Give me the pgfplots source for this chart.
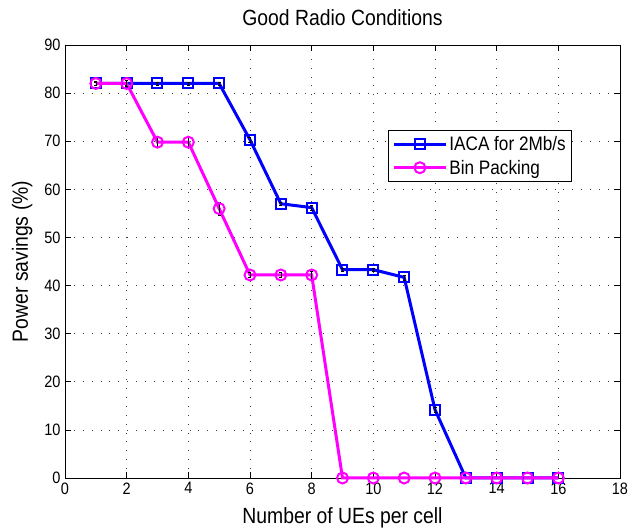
\documentclass[border=0pt]{standalone}
\usepackage{fontspec}
\setmainfont[FakeStretch=0.88]{Liberation Sans}
\usepackage{pgfplots}
\pgfplotsset{compat=1.18}
\definecolor{mblue}{RGB}{0,0,255}
\definecolor{mmag}{RGB}{255,0,255}
\begin{document}
\begin{tikzpicture}
\begin{axis}[
  name=ax, at={(0,0)}, anchor=south west,
  scale only axis, width=555pt, height=433pt,
  xmin=0, xmax=18, ymin=0, ymax=90,
  xtick={0,2,...,18}, ytick={0,10,...,90},
  grid=major, major grid style={black!75, dash pattern=on 0.9pt off 8pt, line width=0.7pt},
  axis line style={black, line width=0.8pt},
  tick align=inside, tick style={black, line width=0.6pt}, major tick length=6pt,
  every tick label/.append style={font=\fontsize{16.5}{18}\selectfont},
  xticklabel style={yshift=-1pt},
  yticklabel style={xshift=-1pt},
  /pgf/number format/assume math mode=true,
  xlabel={Number of UEs per cell}, ylabel={Power savings (\%)},
  label style={font=\fontsize{22}{24}\selectfont},
  xlabel style={at={(axis description cs:0.5,0)}, anchor=base, yshift=-46pt},
  ylabel style={at={(axis description cs:0,0.5)}, anchor=base, yshift=37pt},
  title={Good Radio Conditions},
  title style={font=\fontsize{22}{24}\selectfont, at={(axis description cs:0.5,1)}, anchor=base, yshift=13pt},
  legend style={at={(0.582,0.804)}, anchor=north west, draw=black, line width=0.8pt, font=\fontsize{19.5}{22}\selectfont, row sep=4pt, inner xsep=4pt, inner ysep=4pt},
  legend image code/.code={\draw[mark repeat=2, mark phase=2] plot coordinates {(0pt,0pt) (26pt,0pt) (52pt,0pt)};},
  legend cell align=left,
  clip=false,
]
\addplot[mblue, line width=3pt, mark=square, mark size=5pt, mark options={line width=2pt}, error bars/.cd, y dir=both, y explicit, error bar style={black, line width=0.6pt}, error mark options={rotate=90, mark size=1.5pt, black}] coordinates {
(1,82) +- (0,0.3) (2,82) +- (0,0.3) (3,82) +- (0,0.3) (4,82) +- (0,0.3) (5,82) +- (0,0.3) (6,70.3) +- (0,0.5) (7,57) +- (0,0.3) (8,56.2) +- (0,0.5) (9,43.3) +- (0,0.3) (10,43.3) +- (0,0.3) (11,41.7) +- (0,0.5) (12,14.2) +- (0,0.5) (13,0) (14,0) (15,0) (16,0)};
\addlegendentry{IACA for 2Mb/s}
\addplot[mmag, line width=3pt, mark=o, mark size=5.5pt, mark options={line width=2pt}, error bars/.cd, y dir=both, y explicit, error bar style={black, line width=0.6pt}, error mark options={rotate=90, mark size=1.5pt, black}] coordinates {
(1,82) +- (0,0.4) (2,82) +- (0,0.6) (3,69.8) +- (0,1) (4,69.8) +- (0,1) (5,56) +- (0,1.3) (6,42.2) +- (0,0.5) (7,42.2) +- (0,0.5) (8,42.2) +- (0,0.8) (9,0) (10,0) (11,0) (12,0) (13,0) (14,0) (15,0) (16,0)};
\addlegendentry{Bin Packing}
\end{axis}
\pgfresetboundingbox
\path[use as bounding box] (-65pt,-52pt) rectangle (565pt,478pt);
\end{tikzpicture}
\end{document}
